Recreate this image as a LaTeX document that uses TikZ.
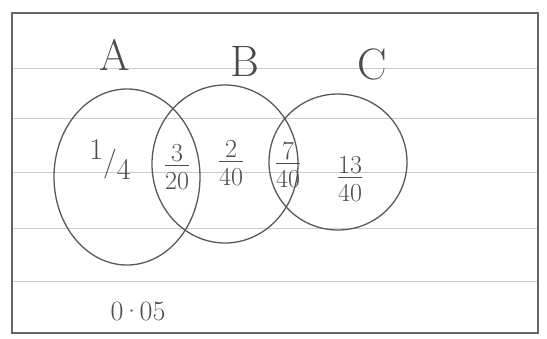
\documentclass[tikz,border=0pt]{standalone}
\usepackage{fontspec}
\newcommand{\handfrac}[2]{\begin{tabular}{@{}c@{}}#1\\[-5pt]\hline\rule{0pt}{24pt}#2\end{tabular}}
\begin{document}
\begin{tikzpicture}[x=1pt,y=-1pt,
	pencil/.style={draw=black!65, line width=1.3pt},
	ruling/.style={draw=black!20, line width=0.7pt},
	setname/.style={text=black!70, font=\fontsize{44}{46}\selectfont},
	prob/.style={text=black!70, font=\fontsize{26}{28}\selectfont, inner sep=0pt}]
	\useasboundingbox (0,0) rectangle (547,338);
	\fill[white] (0,0) rectangle (547,338);
	% ruled paper
	\foreach \y in {68,118,172,228,281}
		\draw[ruling] (12,\y) -- (538,\y);
	\draw[draw=black!60, line width=1.1pt] (12,13) rectangle (538,333);
	% the three sets
	\draw[pencil] (127,177) ellipse [x radius=73, y radius=88];
	\draw[pencil] (225,164) ellipse [x radius=73, y radius=79];
	\draw[pencil] (338,162) ellipse [x radius=69, y radius=68];
	\node[setname] (A) at (115,55) {A};
	\node[setname] (B) at (245,61) {B};
	\node[setname] (C) at (372,64) {C};
	\node[prob, font=\fontsize{30}{32}\selectfont] (onlyA) at (110,160) {\raisebox{12pt}{1}/\raisebox{-8pt}{4}};
	\node[prob] (AB) at (177,170) {\handfrac{3}{20}};
	\node[prob] (onlyB) at (231,166) {\handfrac{2}{40}};
	\node[prob] (BC) at (288,168) {\handfrac{7}{40}};
	\node[prob] (onlyC) at (350,182) {\handfrac{13}{40}};
	\node[prob, font=\fontsize{28}{30}\selectfont] (none) at (138,311) {0\kern-2pt·\kern-2pt05};
\end{tikzpicture}
\end{document}
